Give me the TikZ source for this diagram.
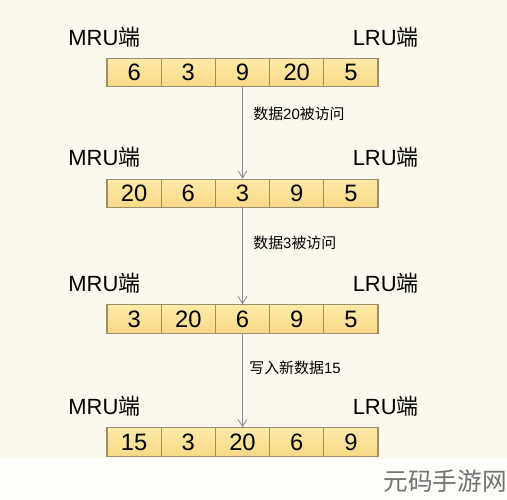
\documentclass[tikz,border=0pt]{standalone}
\usepackage{fontspec}
\setmainfont{Liberation Sans}
\newfontfamily\cjk{Noto Sans CJK SC}
\usetikzlibrary{arrows.meta}
\definecolor{bgcream}{HTML}{FBF8EE}
\definecolor{bgwhite}{HTML}{FDFDFA}
\definecolor{celltop}{HTML}{FDEBA8}
\definecolor{cellbot}{HTML}{F8D887}
\definecolor{cellline}{HTML}{9C8D6C}
\definecolor{arrowgray}{HTML}{8C8C8C}
\tikzset{
	cell/.style={draw=cellline, line width=0.6pt, top color=celltop, bottom color=cellbot, minimum width=1.084cm, minimum height=0.57cm, inner sep=0pt, font=\fontsize{13.5}{13.5}\selectfont},
	endlabel/.style={font=\fontsize{12.5}{13}\selectfont, inner sep=0pt},
	steplabel/.style={font=\fontsize{8.5}{9}\selectfont, anchor=west, inner sep=0pt},
	visit/.style={draw=arrowgray, line width=0.5pt, -{Straight Barb[length=4pt,width=5pt]}}
}

\begin{document}
\begin{tikzpicture}[x=0.02cm, y=-0.02cm]
		%%%%% START %%%%%
		
		\fill[bgcream] (0, 0) rectangle (507, 458);
		\fill[bgwhite] (0, 458) rectangle (507, 500);
		\useasboundingbox (0, 0) rectangle (507, 500);
		
		\foreach \row/\ypos/\vals in {1/72.7/{6,3,9,20,5}, 2/193.5/{20,6,3,9,5}, 3/319/{3,20,6,9,5}, 4/442/{15,3,20,6,9}} {
			\node[endlabel, anchor=west] (mru-\row) at (68, \ypos-36) {MRU{\cjk 端}};
			\node[endlabel, anchor=east] (lru-\row) at (419, \ypos-36) {LRU{\cjk 端}};
			\foreach \v [count=\i] in \vals {
				\node[cell] (cell-\row-\i) at (134.1+54.2*\i-54.2, \ypos) {\v};
			}
		}
		
		\draw[visit] (cell-1-3) -- (cell-2-3);
		\draw[visit] (cell-2-3) -- (cell-3-3);
		\draw[visit] (cell-3-3) -- (cell-4-3);
		
		\node[steplabel] (step-1) at (253, 114) {{\cjk 数据}20{\cjk 被访问}};
		\node[steplabel] (step-2) at (253, 243) {{\cjk 数据}3{\cjk 被访问}};
		\node[steplabel] (step-3) at (249, 368) {{\cjk 写入新数据}15};
		
		\node[anchor=east, inner sep=0pt, text=black!55, font=\cjk\fontsize{14}{14}\selectfont] (watermark) at (507, 481) {元码手游网};
		
		%%%%% END %%%%%
	\end{tikzpicture}
\end{document}
